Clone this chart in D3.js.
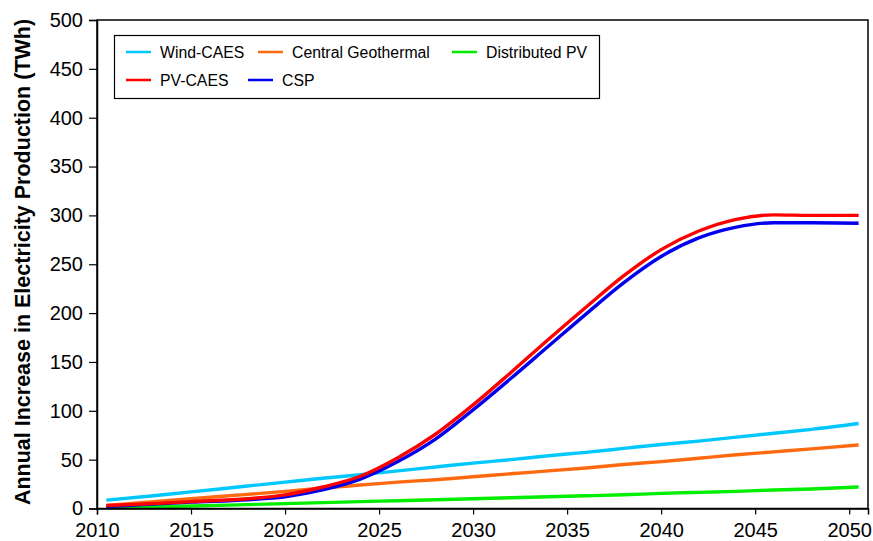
<!DOCTYPE html>
<html>
<head>
<meta charset="utf-8">
<script src="https://cdn.jsdelivr.net/npm/d3@7"></script>
<style>
body { margin: 0; background: #fff; }
text { font-family: "Liberation Sans", Arial, sans-serif; }
</style>
</head>
<body>
<div id="chart"></div>
<script>
// Years
var years = [2010.5, 2013, 2015, 2018, 2020, 2022, 2024, 2026, 2028, 2030, 2032, 2034, 2036, 2038, 2040, 2042, 2044, 2046, 2048, 2050.5];

var windCaes   = [8.5, 13, 17, 23, 27, 31, 34.5, 38.5, 42.5, 46.5, 50, 54, 57.5, 61.5, 65.5, 69, 73, 77, 81, 87];
var geothermal = [3, 7, 10, 14.5, 17.5, 21, 24, 27, 29.5, 32.5, 35.5, 38.5, 41.5, 45, 48, 51.5, 55, 58, 61, 65];
var distPv     = [1, 1.8, 2.5, 4, 5, 6, 7, 8, 9, 10, 11, 12, 13, 14, 15.5, 16.5, 17.5, 19, 20, 22];
var pvCaes     = [3, 5, 7, 10, 14, 22, 33, 52, 76, 106, 139, 173, 206, 238, 265, 284, 296, 300.5, 300, 300];
var csp        = [2, 4.5, 6.5, 9, 12, 19, 30, 48, 71, 101, 133, 166, 199, 231, 258, 277, 288, 292.5, 292.5, 292];

var xTicks = [2010, 2015, 2020, 2025, 2030, 2035, 2040, 2045, 2050];
var yTicks = [0, 50, 100, 150, 200, 250, 300, 350, 400, 450, 500];

var series = [
	{name: "Wind-CAES", values: windCaes, color: "#00c8ff"},
	{name: "Central Geothermal", values: geothermal, color: "#ff6a10"},
	{name: "Distributed PV", values: distPv, color: "#00ee00"},
	{name: "PV-CAES", values: pvCaes, color: "#ff0000"},
	{name: "CSP", values: csp, color: "#0000ee"}
];

var width = 873, height = 541;
var m = {left: 97, right: 5, top: 20, bottom: 32};

var svg = d3.select("#chart").append("svg")
	.attr("width", width)
	.attr("height", height);

var x = d3.scaleLinear().domain([2010, 2051]).range([m.left, width - m.right]);
var y = d3.scaleLinear().domain([0, 500]).range([height - m.bottom - 0.5, m.top]);

// draw order: back to front as in the picture
var drawOrder = [2, 1, 0, 4, 3];
var line = d3.line()
	.x(function(d) { return x(d[0]); })
	.y(function(d) { return y(d[1]); })
	.curve(d3.curveMonotoneX);

drawOrder.forEach(function(i) {
	var s = series[i];
	svg.append("path")
		.datum(years.map(function(yr, j) { return [yr, s.values[j]]; }))
		.attr("d", line)
		.attr("fill", "none")
		.attr("stroke", s.color)
		.attr("stroke-width", 3.4);
});

// frame
svg.append("rect")
	.attr("x", x(2010))
	.attr("y", y(500))
	.attr("width", x(2051) - x(2010))
	.attr("height", y(0) - y(500))
	.attr("fill", "none")
	.attr("stroke", "#000")
	.attr("stroke-width", 1.5);

var xAxis = svg.append("g")
	.attr("transform", "translate(0," + y(0) + ")")
	.call(d3.axisBottom(x).tickValues(xTicks).tickFormat(d3.format("d")).tickSize(6).tickPadding(8));
var yAxis = svg.append("g")
	.attr("transform", "translate(" + x(2010) + ",0)")
	.call(d3.axisLeft(y).tickValues(yTicks).tickSize(8).tickPadding(6));

[xAxis, yAxis].forEach(function(a) {
	a.select(".domain").attr("stroke-width", 1.5);
	a.selectAll(".tick line").attr("stroke-width", 1.2);
	a.selectAll("text")
		.attr("fill", "#000")
		.style("font-family", "'Liberation Sans', Arial, sans-serif")
		.style("font-size", "20px");
});

// y axis title
svg.append("text")
	.attr("transform", "translate(30," + 262 + ") rotate(-90)")
	.attr("text-anchor", "middle")
	.style("font-size", "21.5px")
	.style("font-weight", "bold")
	.text("Annual Increase in Electricity Production (TWh)");

// legend
var legend = svg.append("g");
legend.append("rect")
	.attr("x", 114.5)
	.attr("y", 35.5)
	.attr("width", 485)
	.attr("height", 63)
	.attr("fill", "#fff")
	.attr("stroke", "#000")
	.attr("stroke-width", 1.2);

var legendPos = [
	{x: 126, y: 52},
	{x: 258, y: 52},
	{x: 452, y: 52},
	{x: 126, y: 80},
	{x: 248, y: 80}
];

series.forEach(function(s, i) {
	var p = legendPos[i];
	legend.append("line")
		.attr("x1", p.x).attr("x2", p.x + 25)
		.attr("y1", p.y).attr("y2", p.y)
		.attr("stroke", s.color)
		.attr("stroke-width", 2.5);
	legend.append("text")
		.attr("x", p.x + 34)
		.attr("y", p.y)
		.attr("dy", "0.35em")
		.style("font-size", "15.8px")
		.text(s.name);
});
</script>
</body>
</html>
